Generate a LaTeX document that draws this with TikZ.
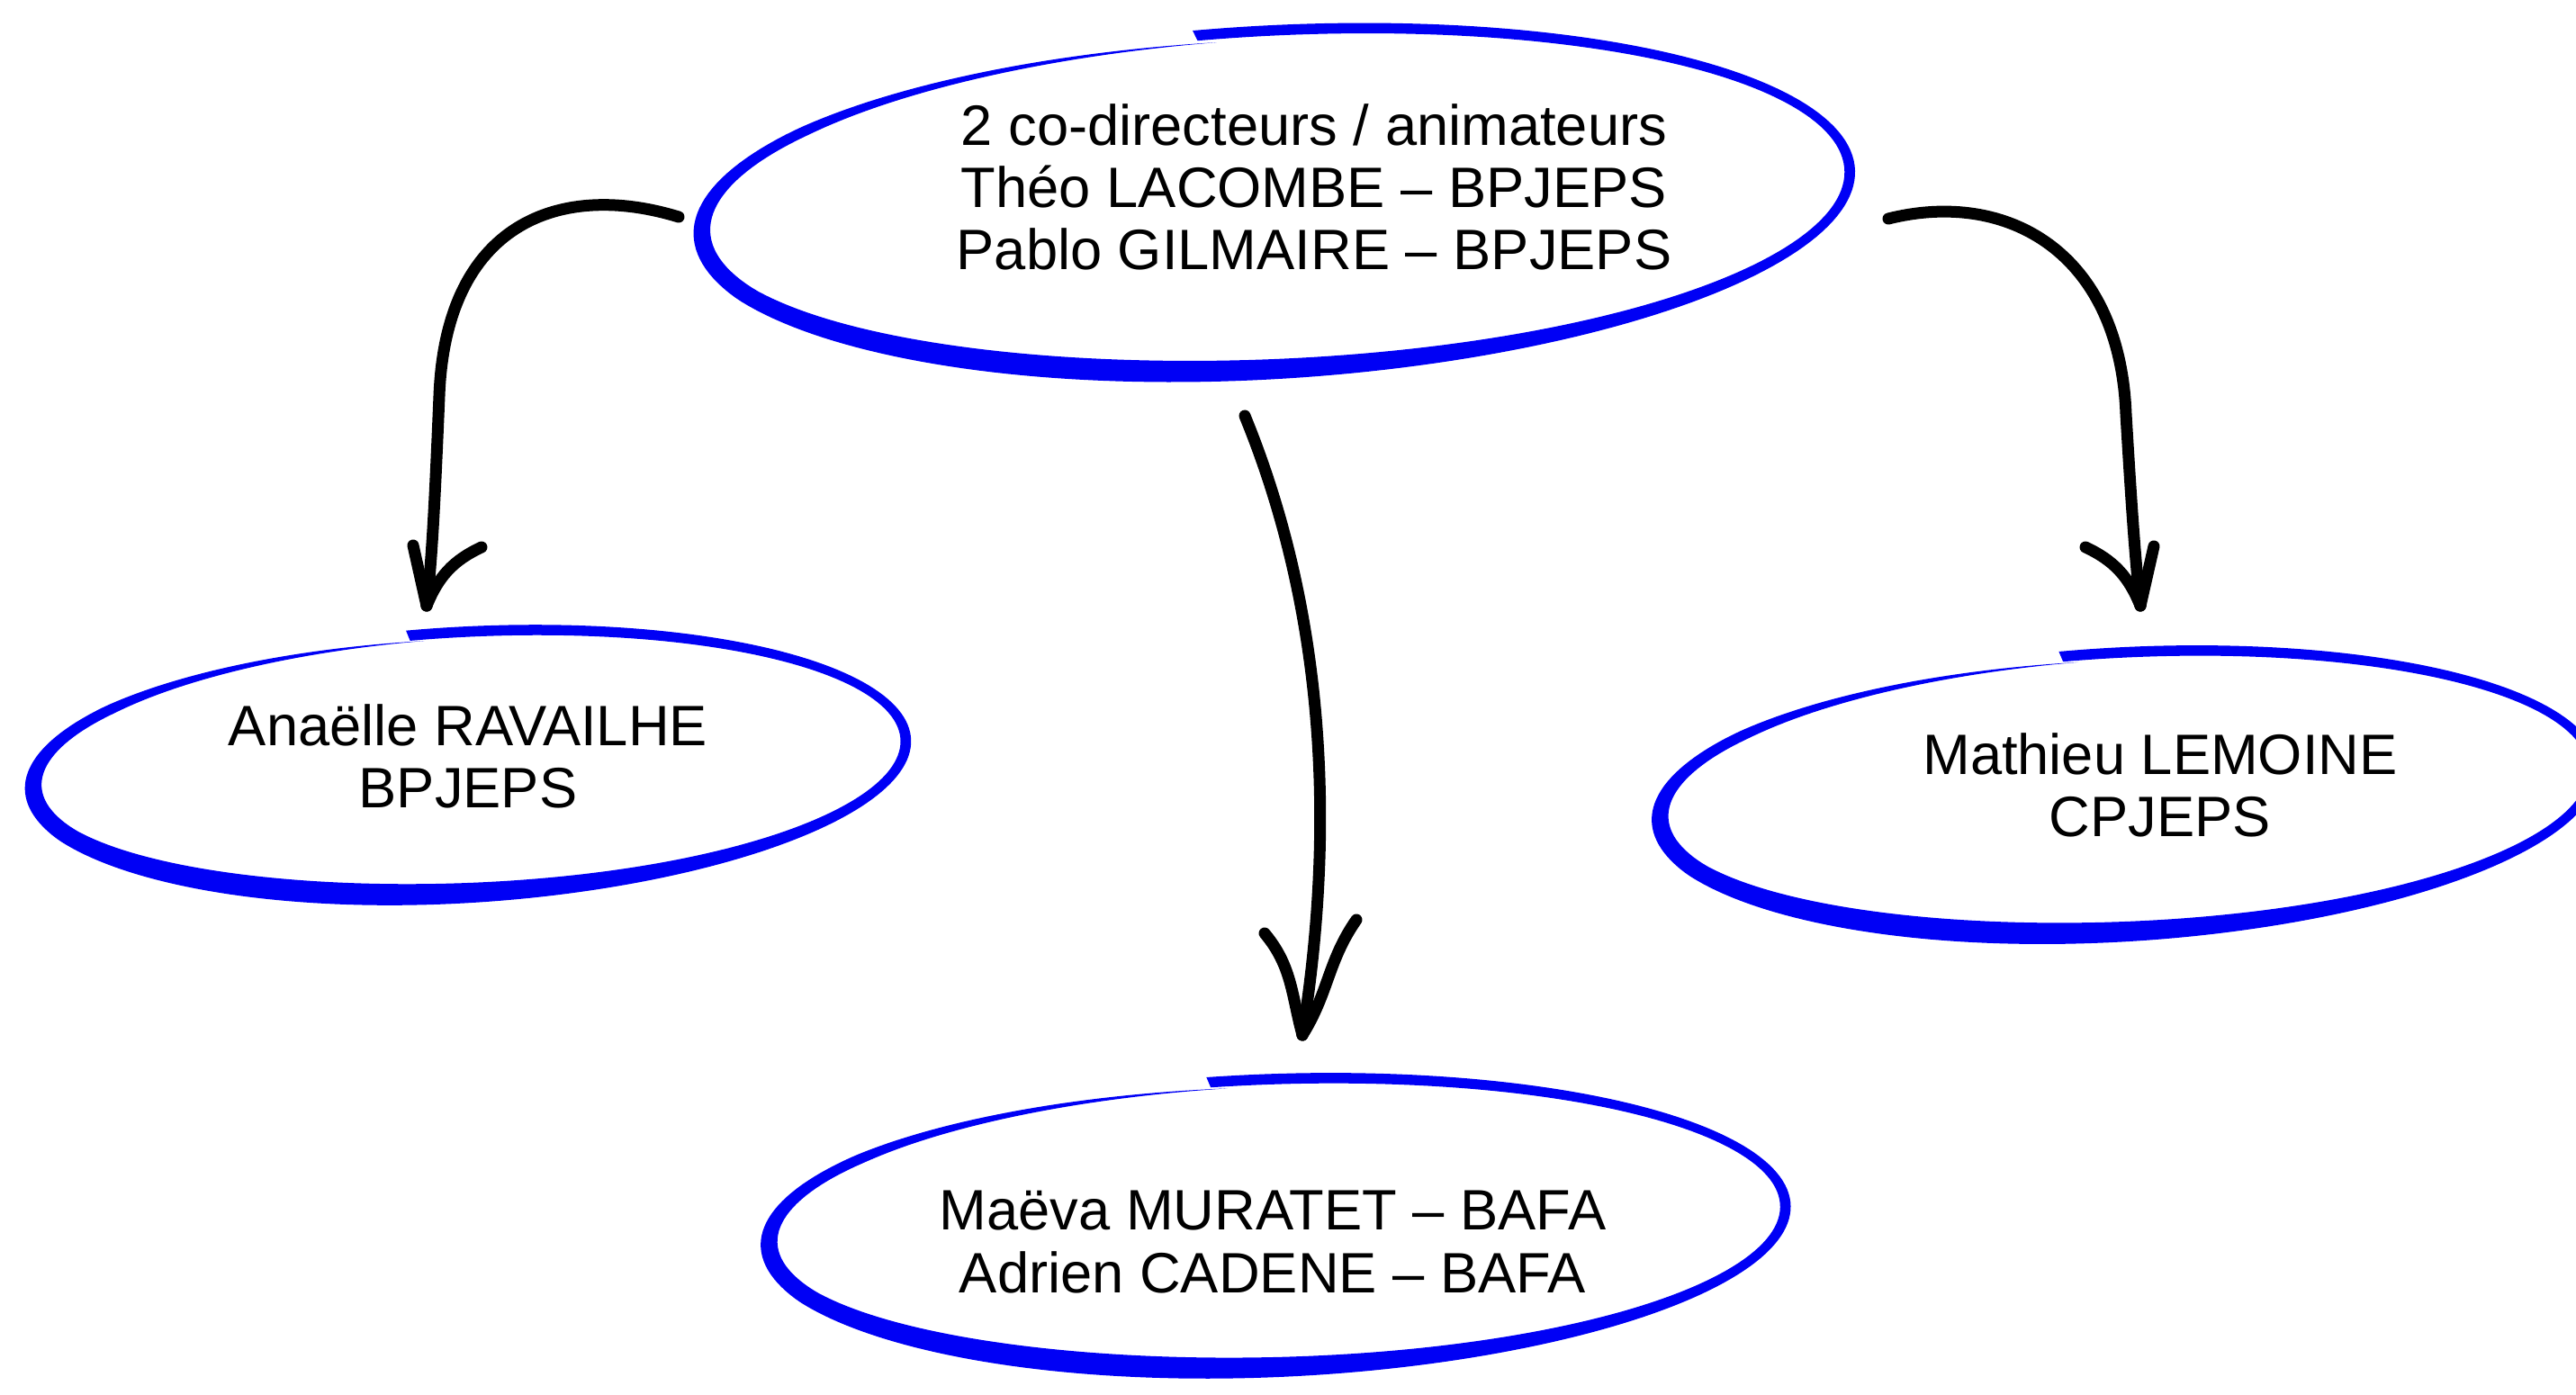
\documentclass[tikz,border=0pt]{standalone}
\usepackage{fontspec}
\setmainfont{Liberation Sans}
\usepackage{tikz}
\definecolor{inkblue}{RGB}{0,0,245}

% trait de feutre autour d'un centre : #1 centre, #2 et #3 rayons, #4 rotation
\newcommand{\inkring}[4]{%
  \begin{scope}[shift={(#1)},rotate=#4]
    \fill[inkblue] plot[domain=0:1,samples=220,variable=\t]
        ({(#2*prad(\t)+phw(\t))*cos(pth(\t))},{(#3*prad(\t)+phw(\t))*sin(pth(\t))})
      -- plot[domain=1:0,samples=220,variable=\t]
        ({(#2*prad(\t)-phw(\t))*cos(pth(\t))},{(#3*prad(\t)-phw(\t))*sin(pth(\t))})
      -- cycle;
  \end{scope}}

\begin{document}
\begin{tikzpicture}
\tikzset{
  declare function={
    pth(\t)=97-362*\t;
    prad(\t)=1-0.05*max(0,\t-0.7)/0.3;
    phw(\t)=min(1,(1-\t)/0.14)*(0.058+0.07*((1+cos(pth(\t)-235))/2)^3);
  },
  name text/.style={align=center,font=\fontsize{18}{19.7}\selectfont},
  ink arrow/.style={draw,line width=3.7pt,line cap=round,line join=round}
}
\clip (0,0) rectangle (28.62,-15.50);
\fill[white] (0,0) rectangle (28.62,-15.50);

% Noeuds
\coordinate (dirC) at (14.14,-2.22);
\coordinate (leftC) at (5.19,-8.47);
\coordinate (rightC) at (23.60,-8.80);
\coordinate (bottomC) at (14.16,-13.59);
\inkring{dirC}{6.42}{1.88}{3}
\inkring{leftC}{4.88}{1.45}{3}
\inkring{rightC}{5.22}{1.55}{3}
\inkring{bottomC}{5.68}{1.60}{2}
\node [name text] (dir) at (14.60,-2.08) {2 co-directeurs / animateurs\\Théo LACOMBE – BPJEPS\\Pablo GILMAIRE – BPJEPS};
\node [name text] (anaelle) at (5.20,-8.40) {Anaëlle RAVAILHE\\BPJEPS};
\node [name text] (mathieu) at (24.00,-8.72) {Mathieu LEMOINE\\CPJEPS};
\node [name text] (duo) at (14.14,-13.80) {Maëva MURATET – BAFA\\Adrien CADENE – BAFA};

% Flèches
\coordinate (lStart) at (7.54,-2.41);
\coordinate (lTip) at (4.74,-6.73);
\coordinate (rStart) at (20.98,-2.43);
\coordinate (rTip) at (23.78,-6.73);
\coordinate (mStart) at (13.83,-4.62);
\coordinate (mTip) at (14.47,-11.50);

\path[ink arrow] (lStart) .. controls (6.2,-2.0) and (4.95,-2.5) .. (4.88,-4.4)
  .. controls (4.83,-5.6) and (4.8,-6.2) .. (lTip);
\path[ink arrow] (lTip) -- (4.59,-6.06);
\path[ink arrow] (lTip) to[out=68,in=205] (5.35,-6.08);

\path[ink arrow] (rStart) .. controls (22.3,-2.1) and (23.55,-2.8) .. (23.62,-4.6)
  .. controls (23.68,-5.6) and (23.72,-6.2) .. (rTip);
\path[ink arrow] (rTip) -- (23.93,-6.07);
\path[ink arrow] (rTip) to[out=112,in=-25] (23.17,-6.08);

\path[ink arrow] (mStart) .. controls (14.6,-6.5) and (14.9,-8.8) .. (mTip);
\path[ink arrow] (mTip) to[out=105,in=-50] (14.05,-10.37);
\path[ink arrow] (mTip) to[out=58,in=-125] (15.07,-10.22);
\end{tikzpicture}
\end{document}
